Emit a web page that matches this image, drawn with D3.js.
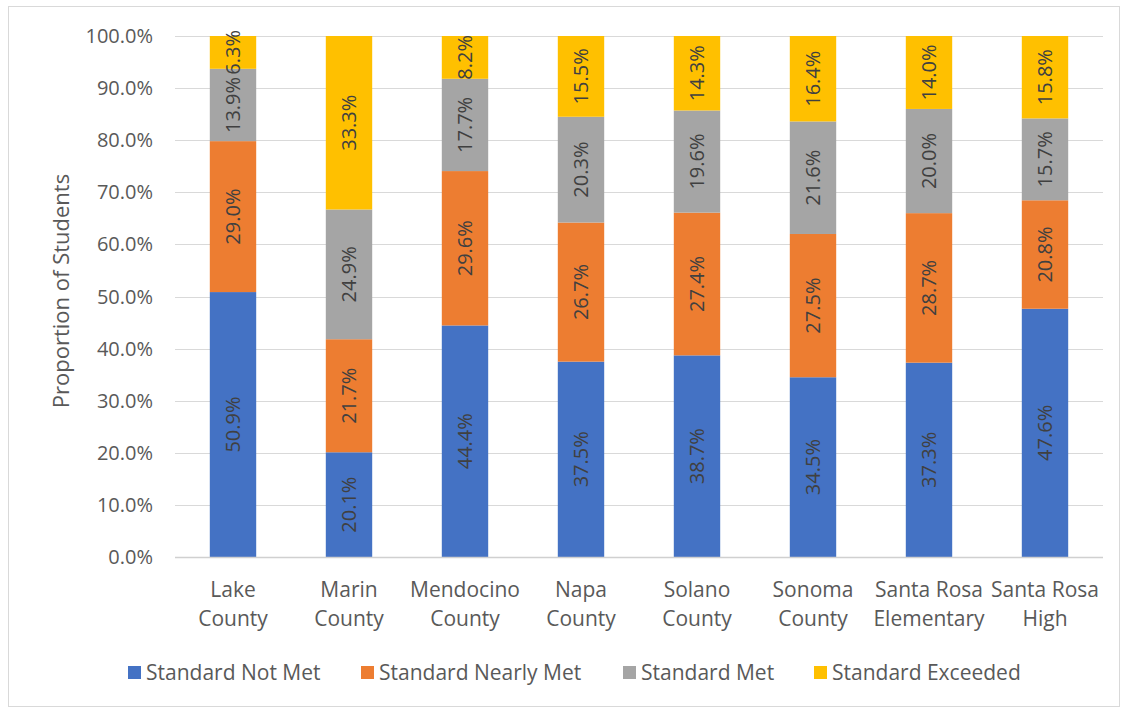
<!DOCTYPE html>
<html>
<head>
<meta charset="utf-8">
<script src="https://cdn.jsdelivr.net/npm/d3@7"></script>
<style>
  body { margin: 0; background: #fff; }
  text { font-family: "Open Sans", "Noto Sans", sans-serif; fill: #595959; }
</style>
</head>
<body>
<script>
// chart data
var categories = [["Lake", "County"], ["Marin", "County"], ["Mendocino", "County"], ["Napa", "County"],
                  ["Solano", "County"], ["Sonoma", "County"], ["Santa Rosa", "Elementary"], ["Santa Rosa", "High"]];
var seriesNames = ["Standard Not Met", "Standard Nearly Met", "Standard Met", "Standard Exceeded"];
var notMet     = [50.9, 20.1, 44.4, 37.5, 38.7, 34.5, 37.3, 47.6];
var nearlyMet  = [29.0, 21.7, 29.6, 26.7, 27.4, 27.5, 28.7, 20.8];
var met        = [13.9, 24.9, 17.7, 20.3, 19.6, 21.6, 20.0, 15.7];
var exceeded   = [6.3, 33.3, 8.2, 15.5, 14.3, 16.4, 14.0, 15.8];
var yTicks = [0, 0.1, 0.2, 0.3, 0.4, 0.5, 0.6, 0.7, 0.8, 0.9, 1.0];

var colors = ["#4472c4", "#ed7d31", "#a5a5a5", "#ffc000"];
var W = 1128, H = 712;

var svg = d3.select("body").append("svg")
  .attr("width", W).attr("height", H);

// outer chart border
svg.append("rect")
  .attr("x", 8.5).attr("y", 6.5).attr("width", 1111).attr("height", 700)
  .attr("fill", "#fff").attr("stroke", "#d9d9d9");

// build rows for stacking (normalised to 100%)
var table = categories.map(function(c, i) {
  var vals = [notMet[i], nearlyMet[i], met[i], exceeded[i]];
  var total = d3.sum(vals);
  var row = { idx: i, raw: vals };
  seriesNames.forEach(function(s, k) { row[s] = vals[k] / total; });
  return row;
});
var stack = d3.stack().keys(seriesNames)(table);

var x = d3.scaleBand().domain(d3.range(categories.length)).range([175, 1103]).paddingInner(0.6).paddingOuter(0.3);
var y = d3.scaleLinear().domain([0, 1]).range([557, 36]);

// gridlines
svg.append("g").selectAll("line").data(yTicks).enter().append("line")
  .attr("x1", 175).attr("x2", 1103)
  .attr("y1", function(d) { return Math.round(y(d)) + 0.5; })
  .attr("y2", function(d) { return Math.round(y(d)) + 0.5; })
  .attr("stroke", "#d9d9d9").attr("stroke-width", 1);

// y tick labels
svg.append("g").selectAll("text").data(yTicks).enter().append("text")
  .attr("x", 153).attr("y", function(d) { return y(d); })
  .attr("dy", "0.35em").attr("text-anchor", "end")
  .style("font-size", "20px")
  .text(function(d) { return d3.format(".1%")(d); });

// axis title
svg.append("text")
  .attr("transform", "translate(69,291) rotate(-90)")
  .attr("text-anchor", "middle")
  .style("font-size", "22px")
  .text("Proportion of Students");

// bars
var layer = svg.append("g").selectAll("g").data(stack).enter().append("g")
  .attr("fill", function(d, k) { return colors[k]; });

layer.selectAll("rect").data(function(d) { return d; }).enter().append("rect")
  .attr("x", function(d) { return x(d.data.idx); })
  .attr("width", x.bandwidth())
  .attr("y", function(d) { return y(d[1]); })
  .attr("height", function(d) { return y(d[0]) - y(d[1]); });

// data labels (rotated, centred in segment)
stack.forEach(function(s, k) {
  svg.append("g").selectAll("text").data(s).enter().append("text")
    .attr("transform", function(d) {
      var cx = x(d.data.idx) + x.bandwidth() / 2;
      var cy = (y(d[0]) + y(d[1])) / 2;
      return "translate(" + cx + "," + cy + ") rotate(-90)";
    })
    .attr("text-anchor", "middle").attr("dy", "0.35em")
    .style("font-size", "20px")
    .style("fill", "#404040")
    .text(function(d) { return d.data.raw[k].toFixed(1) + "%"; });
});

// x axis line
svg.append("line")
  .attr("x1", 175).attr("x2", 1103).attr("y1", 557.5).attr("y2", 557.5)
  .attr("stroke", "#d0d0d0").attr("stroke-width", 1.5);

// category labels
var cat = svg.append("g").selectAll("text").data(categories).enter().append("text")
  .attr("x", function(d, i) { return x(i) + x.bandwidth() / 2; })
  .attr("text-anchor", "middle")
  .style("font-size", "21px");
cat.append("tspan").attr("x", function(d, i) { return x(i) + x.bandwidth() / 2; })
  .attr("y", 597).text(function(d) { return d[0]; });
cat.append("tspan").attr("x", function(d, i) { return x(i) + x.bandwidth() / 2; })
  .attr("y", 626).text(function(d) { return d[1]; });

// legend
var legendX = [128, 361, 623, 814];
var leg = svg.append("g").selectAll("g").data(seriesNames).enter().append("g")
  .attr("transform", function(d, k) { return "translate(" + legendX[k] + ",666)"; });
leg.append("rect").attr("width", 13).attr("height", 13)
  .attr("fill", function(d, k) { return colors[k]; });
leg.append("text").attr("x", 18).attr("y", 14)
  .style("font-size", "21px")
  .text(function(d) { return d; });
</script>
</body>
</html>
